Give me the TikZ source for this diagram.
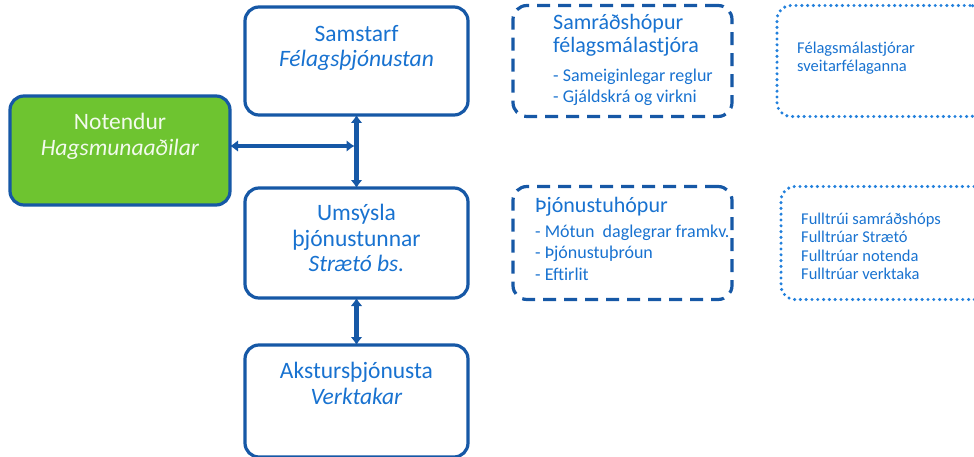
\documentclass[tikz,border=0pt]{standalone}
\usepackage{fontspec}
\setmainfont{Carlito}
\usepackage{xcolor}
\usetikzlibrary{positioning}
\usetikzlibrary{arrows.meta}
\definecolor{boxblue}{RGB}{22,88,166}
\definecolor{textblue}{RGB}{24,114,208}
\definecolor{dotblue}{RGB}{34,128,220}
\definecolor{usergreen}{RGB}{110,196,48}
\definecolor{userwhite}{RGB}{242,250,236}
\tikzset{%
  every unit/.style={
    rectangle,
    rounded corners=14pt,
    draw=boxblue,
    line width=3.2pt,
    outer sep=0pt,
    minimum width=223pt,
    minimum height=108pt
  },
  unit users/.style={
    every unit,
    fill=usergreen,
    minimum width=220pt,
    minimum height=109pt
  },
  unit group/.style={
    every unit,
    dash pattern=on 13pt off 8pt,
    minimum width=219pt,
    minimum height=111pt
  },
  unit members/.style={
    rectangle,
    rounded corners=14pt,
    draw=dotblue,
    line width=3.4pt,
    line cap=round,
    dash pattern=on 0pt off 5.8pt,
    outer sep=0pt,
    minimum width=207pt,
    minimum height=111pt
  },
  unit title/.style={
    text=textblue,
    align=center,
    inner sep=0pt,
    font=\fontsize{23.5}{25.5}\selectfont
  },
  group title/.style={
    text=textblue,
    align=left,
    inner sep=0pt,
    font=\fontsize{22}{23}\selectfont
  },
  group list/.style={
    text=textblue,
    align=left,
    inner sep=0pt,
    font=\fontsize{18}{21.5}\selectfont
  },
  member list/.style={
    text=textblue,
    align=left,
    inner sep=0pt,
    font=\fontsize{16.5}{18.5}\selectfont
  },
}

\begin{document}
\begin{tikzpicture}[x=1pt,y=1pt]
      \tikzstyle{line} = [draw=boxblue, line width=4.2pt, {Latex[length=8pt,width=12pt]}-{Latex[length=8pt,width=12pt]}]
      \useasboundingbox (0,0) rectangle (974,456);

      % Samstarf
      \node[every unit] (Samstarf) at (356.5,395) {};
      \node[unit title, below=18pt of Samstarf.north] (SamstarfText) {Samstarf\\\textit{Félagsþjónustan}};

      % Notendur
      \node[unit users] (Notendur) at (120,305.5) {};
      \node[unit title, text=userwhite, below=17pt of Notendur.north] (NotendurText) {Notendur\\\textit{Hagsmunaaðilar}};

      % Umsýsla
      \node[every unit, minimum height=110pt, below=73pt of Samstarf] (Umsysla) {};
      \node[unit title, below=16pt of Umsysla.north] (UmsyslaText) {Umsýsla\\þjónustunnar\\\textit{Strætó bs.}};

      % Akstursþjónusta
      \node[every unit, minimum height=112pt, below=47pt of Umsysla] (Akstur) {};
      \node[unit title, below=17pt of Akstur.north] (AksturText) {Akstursþjónusta\\\textit{Verktakar}};

      % Samráðshópur
      \node[unit group, right=45pt of Samstarf] (Samrad) {};
      \node[group title, below right=9pt and 40pt of Samrad.north west] (SamradTitle) {Samráðshópur\\félagsmálastjóra};
      \node[group list, below right=63pt and 40pt of Samrad.north west] (SamradList) {- Sameiginlegar reglur\\- Gjáldskrá og virkni};

      % Þjónustuhópur
      \node[unit group, minimum height=113pt, right=45pt of Umsysla] (Thjonusta) {};
      \node[group title, below right=11pt and 22pt of Thjonusta.north west] (ThjonustaTitle) {Þjónustuhópur};
      \node[group list, below right=38pt and 22pt of Thjonusta.north west] (ThjonustaList) {- Mótun \ daglegrar framkv.\\- Þjónustuþróun\\- Eftirlit};

      % Félagsmálastjórar
      \node[unit members, right=45pt of Samrad] (Stjorar) {};
      \node[member list, below right=36pt and 20pt of Stjorar.north west] (StjorarText) {Félagsmálastjórar\\sveitarfélaganna};

      % Fulltrúar
      \node[unit members, minimum height=113pt, right=49pt of Thjonusta] (Fulltruar) {};
      \node[member list, below right=26pt and 20pt of Fulltruar.north west] (FulltruarText) {Fulltrúi samráðshóps\\Fulltrúar Strætó\\Fulltrúar notenda\\Fulltrúar verktaka};

      % Notendur -> Samstarf & Umsýsla
      \coordinate (Junction) at ([yshift=4.5pt]Notendur.east -| Samstarf.south);
      \path[line, shorten >=2pt] ([yshift=4.5pt]Notendur.east) -- (Junction);
      \path[line] (Samstarf) -- (Umsysla);

      % Umsýsla -> Akstur
      \path[line] (Umsysla.south) -- (Umsysla.south |- Akstur.north);
\end{tikzpicture}
\end{document}
